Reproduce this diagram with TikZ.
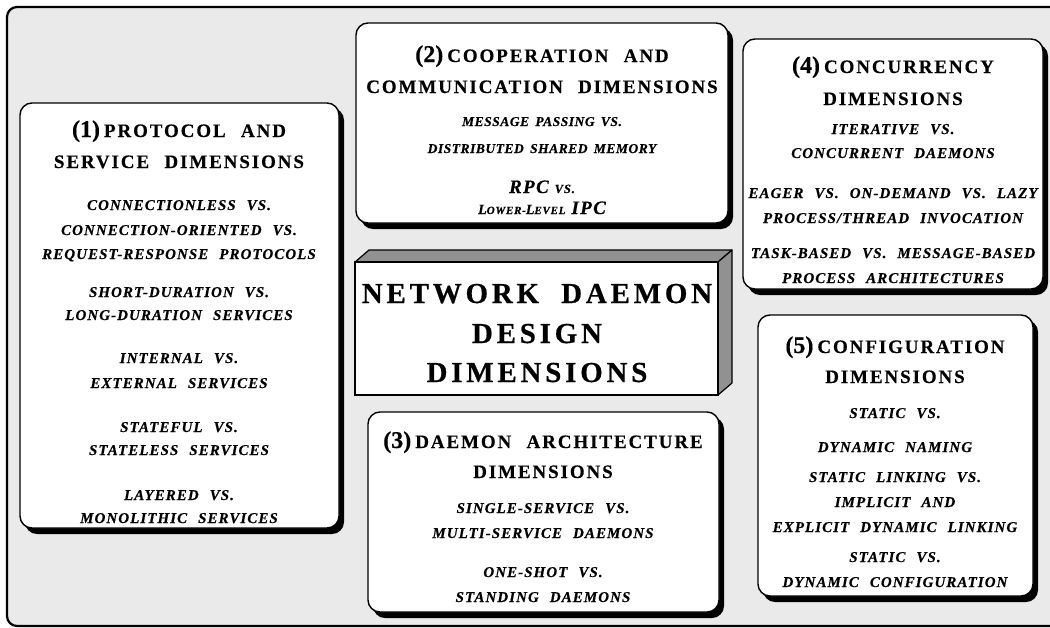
\documentclass[tikz,border=0pt]{standalone}
\usepackage{fontspec}
\setmainfont{Liberation Serif}[BoldFeatures={FakeBold=0.4},BoldItalicFeatures={FakeBold=0.4}]
\newfontfamily\hdfont{Liberation Serif}[LetterSpace=10,WordSpace=2.3,BoldFeatures={FakeBold=0.4}]
\newfontfamily\itmfont{Liberation Serif}[LetterSpace=7,WordSpace=2.3,BoldItalicFeatures={FakeBold=0.4}]
\newfontfamily\itsfont{Liberation Serif}[LetterSpace=4,WordSpace=1.6,BoldItalicFeatures={FakeBold=0.4}]
\newfontfamily\bigfont{Liberation Serif}[LetterSpace=13,WordSpace=2,BoldFeatures={FakeBold=0.5}]
\newcommand\sz[1]{\fontsize{#1}{#1}\selectfont}
\newcommand\hnum[1]{{\rmfamily\bfseries\sz{24}(#1)}\hspace{4pt}}
\definecolor{bggray}{RGB}{234,234,234}
\definecolor{facegray}{RGB}{145,145,145}
\tikzset{
  frame/.style={draw=black,line width=2.2pt,fill=bggray,rounded corners=10pt},
  card/.style={draw=black,line width=1.4pt,fill=white,rounded corners=12pt},
  shadowbox/.style={fill=black,rounded corners=12pt},
  hd/.style={font=\hdfont\bfseries\sz{19},anchor=base,inner sep=0pt},
  itm/.style={font=\itmfont\bfseries\itshape\sz{15},anchor=base,inner sep=0pt},
  its/.style={font=\itsfont\bfseries\itshape\sz{13.5},anchor=base,inner sep=0pt},
  big/.style={font=\bigfont\bfseries\sz{29},anchor=base,inner sep=0pt},
  face/.style={draw=black,line width=1.2pt,fill=facegray,line join=round},
  front/.style={draw=black,line width=1.4pt,fill=white}
}
\begin{document}
\begin{tikzpicture}[x=1pt,y=-1pt]
\useasboundingbox (0,0) rectangle (1050,627);
\path[frame] (7,7) rectangle (1070,626);

% ---------- box 1
\fill[shadowbox] (25,108) rectangle (344,534);
\draw[card] (20,103) rectangle (339,528);
\node[hd] (b1h1) at (179,137) {\hnum{1}PROTOCOL AND};
\node[hd] (b1h2) at (179,168) {SERVICE DIMENSIONS};
\node[itm] (b1a) at (179,210) {CONNECTIONLESS VS.};
\node[itm] (b1b) at (179,235) {CONNECTION-ORIENTED VS.};
\node[itm] (b1c) at (179,259) {REQUEST-RESPONSE PROTOCOLS};
\node[itm] (b1d) at (179,297) {SHORT-DURATION VS.};
\node[itm] (b1e) at (179,320) {LONG-DURATION SERVICES};
\node[itm] (b1f) at (179,363) {INTERNAL VS.};
\node[itm] (b1g) at (179,388) {EXTERNAL SERVICES};
\node[itm] (b1h) at (179,432) {STATEFUL VS.};
\node[itm] (b1i) at (179,455) {STATELESS SERVICES};
\node[itm] (b1j) at (179,500) {LAYERED VS.};
\node[itm] (b1k) at (179,523) {MONOLITHIC SERVICES};

% ---------- box 2
\fill[shadowbox] (361,28) rectangle (733,229);
\draw[card] (356,23) rectangle (728,223);
\node[hd] (b2h1) at (542,62) {\hnum{2}COOPERATION AND};
\node[hd] (b2h2) at (542,93) {COMMUNICATION DIMENSIONS};
\node[its] (b2a) at (542,126) {MESSAGE PASSING VS.};
\node[its] (b2b) at (542,153) {DISTRIBUTED SHARED MEMORY};
\node[itm] (b2c) at (542,193) {{\sz{19}RPC}\hspace{6pt}{\sz{12.5}VS.}};
\node[itm] (b2d) at (542,214) {{\sz{14}L}{\sz{11}OWER-}{\sz{14}L}{\sz{11}EVEL}\hspace{6pt}{\sz{19}IPC}};

% ---------- box 4
\fill[shadowbox] (748,44) rectangle (1048,295);
\draw[card] (743,39) rectangle (1043,289);
\node[hd] (b4h1) at (893,73) {\hnum{4}CONCURRENCY};
\node[hd] (b4h2) at (893,105) {DIMENSIONS};
\node[itm] (b4a) at (893,134) {ITERATIVE VS.};
\node[itm] (b4b) at (893,158) {CONCURRENT DAEMONS};
\node[itm] (b4c) at (893,198) {EAGER VS. ON-DEMAND VS. LAZY};
\node[itm] (b4d) at (893,223) {PROCESS/THREAD INVOCATION};
\node[itm] (b4e) at (893,258) {TASK-BASED VS. MESSAGE-BASED};
\node[itm] (b4f) at (893,283) {PROCESS ARCHITECTURES};

% ---------- central 3D box
\path[face] (355,262) -- (369,250) -- (732,250) -- (718,262) -- cycle;
\path[face] (718,262) -- (732,250) -- (732,383) -- (718,395) -- cycle;
\path[front] (355,262) rectangle (718,395);
\node[big] (c1) at (537,303) {NETWORK DAEMON};
\node[big] (c2) at (537,343) {DESIGN};
\node[big] (c3) at (537,382) {DIMENSIONS};

% ---------- box 3
\fill[shadowbox] (373,417) rectangle (724,618);
\draw[card] (368,412) rectangle (719,612);
\node[hd] (b3h1) at (543,448) {\hnum{3}DAEMON ARCHITECTURE};
\node[hd] (b3h2) at (543,478) {DIMENSIONS};
\node[itm] (b3a) at (543,513) {SINGLE-SERVICE VS.};
\node[itm] (b3b) at (543,538) {MULTI-SERVICE DAEMONS};
\node[itm] (b3c) at (543,577) {ONE-SHOT VS.};
\node[itm] (b3d) at (543,602) {STANDING DAEMONS};

% ---------- box 5
\fill[shadowbox] (763,320) rectangle (1038,602);
\draw[card] (758,315) rectangle (1033,596);
\node[hd] (b5h1) at (895,353) {\hnum{5}CONFIGURATION};
\node[hd] (b5h2) at (895,383) {DIMENSIONS};
\node[itm] (b5a) at (895,418) {STATIC VS.};
\node[itm] (b5b) at (895,452) {DYNAMIC NAMING};
\node[itm] (b5c) at (895,482) {STATIC LINKING VS.};
\node[itm] (b5d) at (895,507) {IMPLICIT AND};
\node[itm] (b5e) at (895,532) {EXPLICIT DYNAMIC LINKING};
\node[itm] (b5f) at (895,562) {STATIC VS.};
\node[itm] (b5g) at (895,587) {DYNAMIC CONFIGURATION};
\end{tikzpicture}
\end{document}
